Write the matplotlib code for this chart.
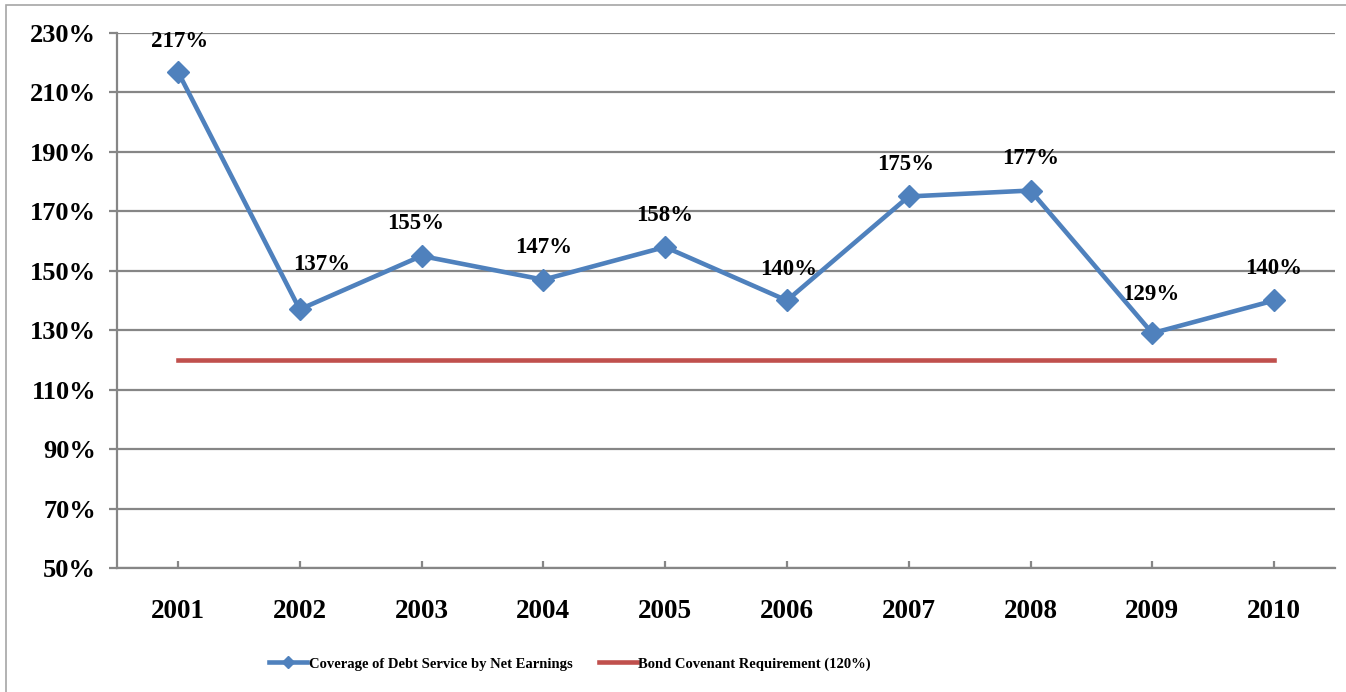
import matplotlib
matplotlib.use("Agg")
import matplotlib.pyplot as plt
from matplotlib.patches import Rectangle

years = ["2001", "2002", "2003", "2004", "2005", "2006", "2007", "2008", "2009", "2010"]
coverage = [217, 137, 155, 147, 158, 140, 175, 177, 129, 140]
covenant = [120] * len(years)
y_ticks = [50, 70, 90, 110, 130, 150, 170, 190, 210, 230]

# label offsets in points (dx, dy) relative to each marker
label_offsets = [(1, 22), (16, 32), (-4, 23), (0, 23), (0, 23), (1, 22), (-2, 23), (0, 23), (-1, 28), (0, 23)]

W, H, DPI = 1346, 692, 100
fig = plt.figure(figsize=(W / DPI, H / DPI), dpi=DPI)
plt.rcParams["font.family"] = ["Liberation Serif", "DejaVu Serif"]

# outer chart frame
fig.patches.append(Rectangle((6 / W, -0.05), 1.2, 1 - 5 / H + 0.05, transform=fig.transFigure,
                             fill=False, edgecolor="#a6a6a6", linewidth=1.2, zorder=0))

ax = fig.add_axes([117 / W, 1 - 568 / H, (1335 - 117) / W, (568 - 33) / H])
x = list(range(len(years)))

grid_col = "#868686"
ax.set_ylim(50, 230)
ax.set_xlim(-0.5, len(years) - 0.5)
ax.set_yticks(y_ticks)
ax.set_yticklabels([f"{v}%" for v in y_ticks])
ax.yaxis.grid(True, color=grid_col, linewidth=1.6)
ax.set_axisbelow(True)
ax.set_xticks(x)
ax.set_xticklabels(years)

for s in ["top", "right"]:
    ax.spines[s].set_visible(False)
for s in ["left", "bottom"]:
    ax.spines[s].set_color(grid_col)
    ax.spines[s].set_linewidth(1.6)

ax.tick_params(axis="y", length=6, width=1.6, color=grid_col, pad=9, labelsize=19)
ax.tick_params(axis="x", direction="in", length=5, width=1.6, color=grid_col, pad=22, labelsize=19.5)
for lbl in ax.get_xticklabels() + ax.get_yticklabels():
    lbl.set_fontweight("bold")

ln_cov, = ax.plot(x, coverage, color="#4F81BD", linewidth=3.3, marker="D", markersize=11,
                  label="Coverage of Debt Service by Net Earnings", zorder=4)
ln_req, = ax.plot(x, covenant, color="#C0504D", linewidth=3.3,
                  label="Bond Covenant Requirement (120%)", zorder=3)

for xi, v, (dx, dy) in zip(x, coverage, label_offsets):
    ax.annotate(f"{v}%", (xi, v), xytext=(dx, dy), textcoords="offset points",
                ha="center", va="center", fontsize=16.5, fontweight="bold")

leg = fig.legend(handles=[ln_cov, ln_req], loc="center", bbox_to_anchor=(570 / W, 1 - 664 / H),
                 ncol=2, frameon=False, prop={"weight": "bold", "size": 10.5},
                 handlelength=2.6, handletextpad=0.1, columnspacing=1.8, markerscale=0.55)

fig.savefig("out.png", dpi=DPI)
